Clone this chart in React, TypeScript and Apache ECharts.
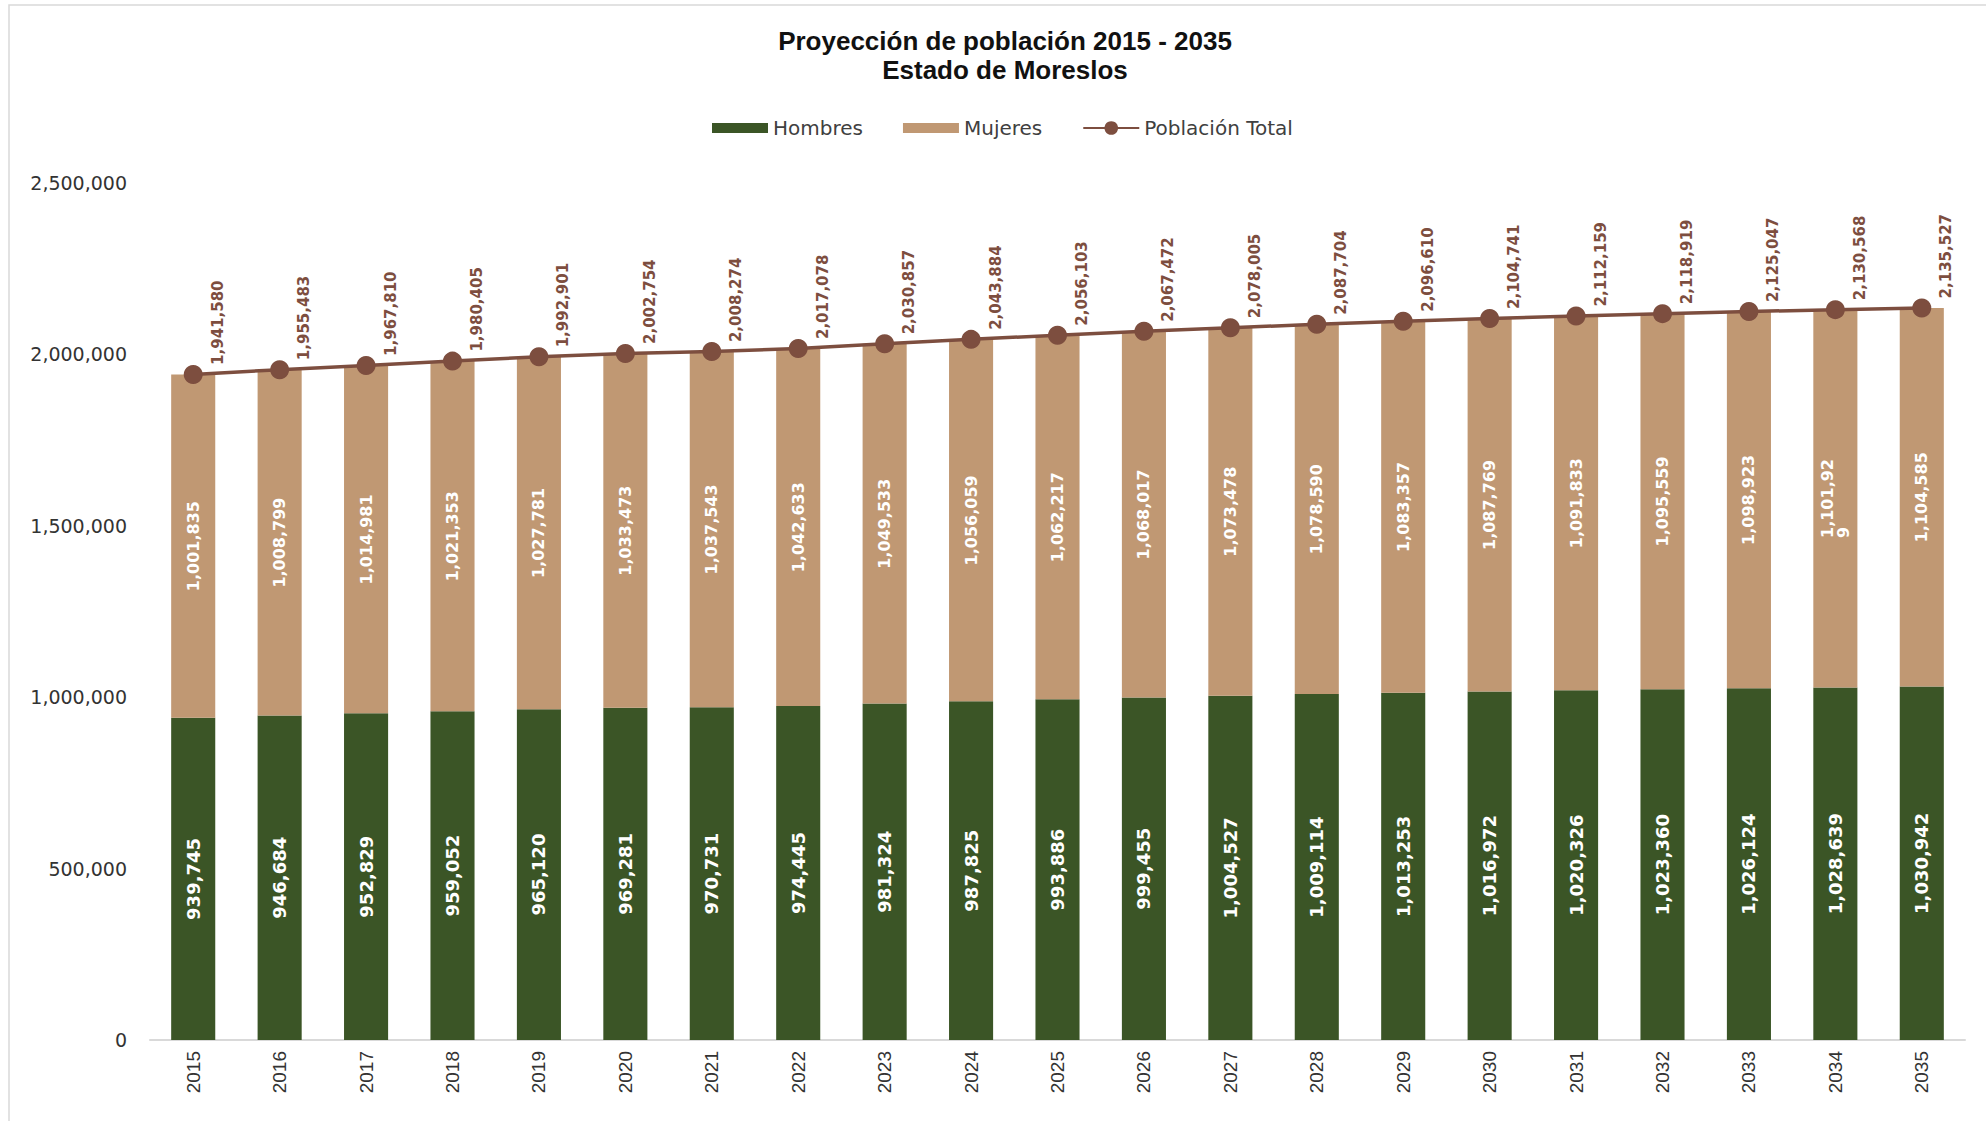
import React, { useEffect, useRef } from "react";
import * as echarts from "echarts";

const years = [
  "2015", "2016", "2017", "2018", "2019", "2020", "2021", "2022", "2023", "2024", "2025",
  "2026", "2027", "2028", "2029", "2030", "2031", "2032", "2033", "2034", "2035",
];

const hombres = [
  939745, 946684, 952829, 959052, 965120, 969281, 970731, 974445, 981324, 987825, 993886,
  999455, 1004527, 1009114, 1013253, 1016972, 1020326, 1023360, 1026124, 1028639, 1030942,
];

const mujeres = [
  1001835, 1008799, 1014981, 1021353, 1027781, 1033473, 1037543, 1042633, 1049533, 1056059, 1062217,
  1068017, 1073478, 1078590, 1083357, 1087769, 1091833, 1095559, 1098923, 1101929, 1104585,
];

const total = [
  1941580, 1955483, 1967810, 1980405, 1992901, 2002754, 2008274, 2017078, 2030857, 2043884, 2056103,
  2067472, 2078005, 2087704, 2096610, 2104741, 2112159, 2118919, 2125047, 2130568, 2135527,
];

// en Excel la etiqueta de 2034 se parte en dos líneas
const wrappedYear = "2034";

const GREEN = "#3B5526";
const TAN = "#C09873";
const BROWN = "#7D4E3F";

const fmt = (n: number) => n.toLocaleString("en-US");

const barFont = { fontFamily: "DejaVu Sans", fontWeight: "bold", fontSize: 16, color: "#fff" };

const App = () => {
  const chartRef = useRef<HTMLDivElement>(null);

  useEffect(() => {
    document.body.style.margin = "0";
    // @ts-ignore
    const chart = echarts.init(chartRef.current, null, { renderer: "svg" });

    const mujeresData = mujeres.map((v, i) => {
      if (years[i] !== wrappedYear) return v;
      const s = fmt(v);
      return {
        value: v,
        label: {
          formatter: "{a|" + s.slice(0, -1) + "}\n{b|" + s.slice(-1) + "}",
          rich: {
            a: { ...barFont },
            b: { ...barFont, align: "left" },
          },
        },
      };
    });

    const options = {
      animation: false,
      graphic: [
        {
          type: "rect",
          shape: { x: 9, y: 5, width: 2000, height: 1200 },
          style: { fill: "none", stroke: "#d9d9d9", lineWidth: 1.5 },
          silent: true,
        },
      ],
      title: {
        text: "Proyección de población 2015 - 2035\nEstado de Moreslos",
        left: 1000,
        textAlign: "center",
        top: 21,
        textStyle: {
          fontFamily: "Liberation Sans",
          fontWeight: "bold",
          fontSize: 26,
          lineHeight: 29,
          color: "#111",
        },
      },
      legend: {
        left: 712,
        top: 118,
        padding: 0,
        itemWidth: 56,
        itemHeight: 17,
        itemGap: 40,
        textStyle: { fontFamily: "DejaVu Sans", fontSize: 20, color: "#404040" },
        data: [
          { name: "Hombres", icon: "path://M0,0L0,0M0,3.5L56,3.5L56,13.5L0,13.5ZM56,17L56,17" },
          { name: "Mujeres", icon: "path://M0,0L0,0M0,3.5L56,3.5L56,13.5L0,13.5ZM56,17L56,17" },
          { name: "Población Total" },
        ],
      },
      grid: { left: 150, right: 21, top: 183, bottom: 81 },
      xAxis: {
        type: "category",
        data: years,
        axisLine: { lineStyle: { color: "#d9d9d9", width: 2 } },
        axisTick: { show: false },
        axisLabel: {
          rotate: 90,
          margin: 11,
          fontFamily: "Liberation Sans",
          fontSize: 19,
          color: "#333",
        },
      },
      yAxis: {
        type: "value",
        min: 0,
        max: 2500000,
        interval: 500000,
        splitLine: { show: false },
        axisLine: { show: false },
        axisTick: { show: false },
        axisLabel: {
          margin: 23,
          fontFamily: "DejaVu Sans",
          fontSize: 19,
          color: "#333",
          formatter: (v: number) => fmt(v),
        },
      },
      series: [
        {
          name: "Hombres",
          type: "bar",
          stack: "pob",
          barWidth: "51%",
          data: hombres,
          itemStyle: { color: GREEN },
          label: {
            show: true,
            position: "inside",
            rotate: 90,
            ...barFont,
            fontSize: 18,
            formatter: (p: any) => fmt(p.value),
          },
        },
        {
          name: "Mujeres",
          type: "bar",
          stack: "pob",
          barWidth: "51%",
          data: mujeresData,
          itemStyle: { color: TAN },
          label: {
            show: true,
            position: "inside",
            rotate: 90,
            ...barFont,
            formatter: (p: any) => fmt(p.value),
          },
        },
        {
          name: "Población Total",
          type: "line",
          data: total,
          symbol: "circle",
          symbolSize: 19,
          z: 10,
          lineStyle: { color: BROWN, width: 3.5 },
          itemStyle: { color: BROWN },
          label: {
            show: true,
            position: [34, 0],
            rotate: 90,
            align: "left",
            verticalAlign: "middle",
            color: BROWN,
            fontFamily: "DejaVu Sans",
            fontWeight: "bold",
            fontSize: 15,
            formatter: (p: any) => fmt(p.value),
          },
        },
      ],
    };

    chart.setOption(options);

    return () => {
      chart.dispose();
    };
  }, []);

  return <div ref={chartRef} style={{ width: "1986px", height: "1121px" }} />;
};

export default App;
